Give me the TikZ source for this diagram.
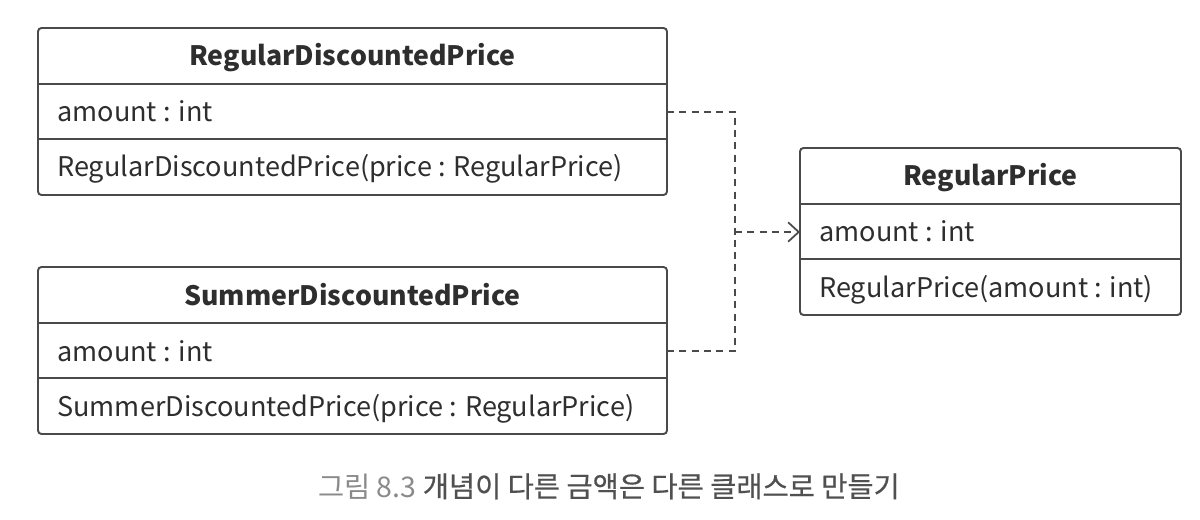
\documentclass[tikz,border=0pt]{standalone}
\usepackage{fontspec}
\setmainfont{Noto Sans CJK KR}
\newfontfamily\capmed{Noto Sans CJK KR}[FakeBold=0.5]
\usetikzlibrary{arrows.meta}
\definecolor{linegray}{HTML}{4A4A4A}
\definecolor{textgray}{HTML}{2E2E2E}
\definecolor{capgray}{HTML}{8A8A8A}
\definecolor{capdark}{HTML}{505050}
\tikzset{
    boxline/.style={draw=linegray, line width=1.1pt},
    classtitle/.style={anchor=base, inner sep=0pt, text=textgray, font=\fontsize{15.2}{19}\selectfont\bfseries},
    classrow/.style={anchor=base west, inner sep=0pt, text=textgray, font=\fontsize{15.4}{19}\selectfont},
    depend/.style={draw=linegray, line width=1pt, dash pattern=on 4pt off 3pt},
    caption/.style={anchor=base, inner sep=0pt, text=capdark, font=\fontsize{16.2}{19}\selectfont}
}
% Caja de clase: nombre, izquierda, arriba, ancho, titulo, atributo, constructor
\newcommand{\classbox}[7]{
    \draw[boxline, rounded corners=2pt] (#2,#3) rectangle (#2+#4,#3+167);
    \draw[boxline] (#2,#3+56) -- (#2+#4,#3+56);
    \draw[boxline] (#2,#3+111) -- (#2+#4,#3+111);
    \node[classtitle] (#1-title) at (#2+#4/2,#3+38) {#5};
    \node[classrow] (#1-attr) at (#2+19,#3+94) {#6};
    \node[classrow] (#1-ctor) at (#2+19,#3+149) {#7};
    \coordinate (#1-in) at (#2,#3+84);
    \coordinate (#1-out) at (#2+#4,#3+84);
}

\begin{document}
\begin{tikzpicture}[x=0.02cm, y=-0.02cm]
    \useasboundingbox (0,0) rectangle (1200,520);

    % Clases
    \classbox{rdp}{38}{28}{629}{RegularDiscountedPrice}{amount : int}{RegularDiscountedPrice(price : RegularPrice)}
    \classbox{sdp}{38}{267}{629}{SummerDiscountedPrice}{amount : int}{SummerDiscountedPrice(price : RegularPrice)}
    \classbox{rp}{800}{148}{381}{RegularPrice}{amount : int}{RegularPrice(amount : int)}

    % Dependencias
    \coordinate (join) at (735,232);
    \draw[depend] (rdp-out) -| (join);
    \draw[depend] (sdp-out) -| (join);
    \draw[depend, -{Straight Barb[length=6pt, width=11pt]}] (join) -- (rp-in);

    % Pie de figura
    \node[caption] (cap) at (609,497) {{\color{capgray}그림 8.3} {\capmed 개념이 다른 금액은 다른 클래스로 만들기}};
\end{tikzpicture}
\end{document}
